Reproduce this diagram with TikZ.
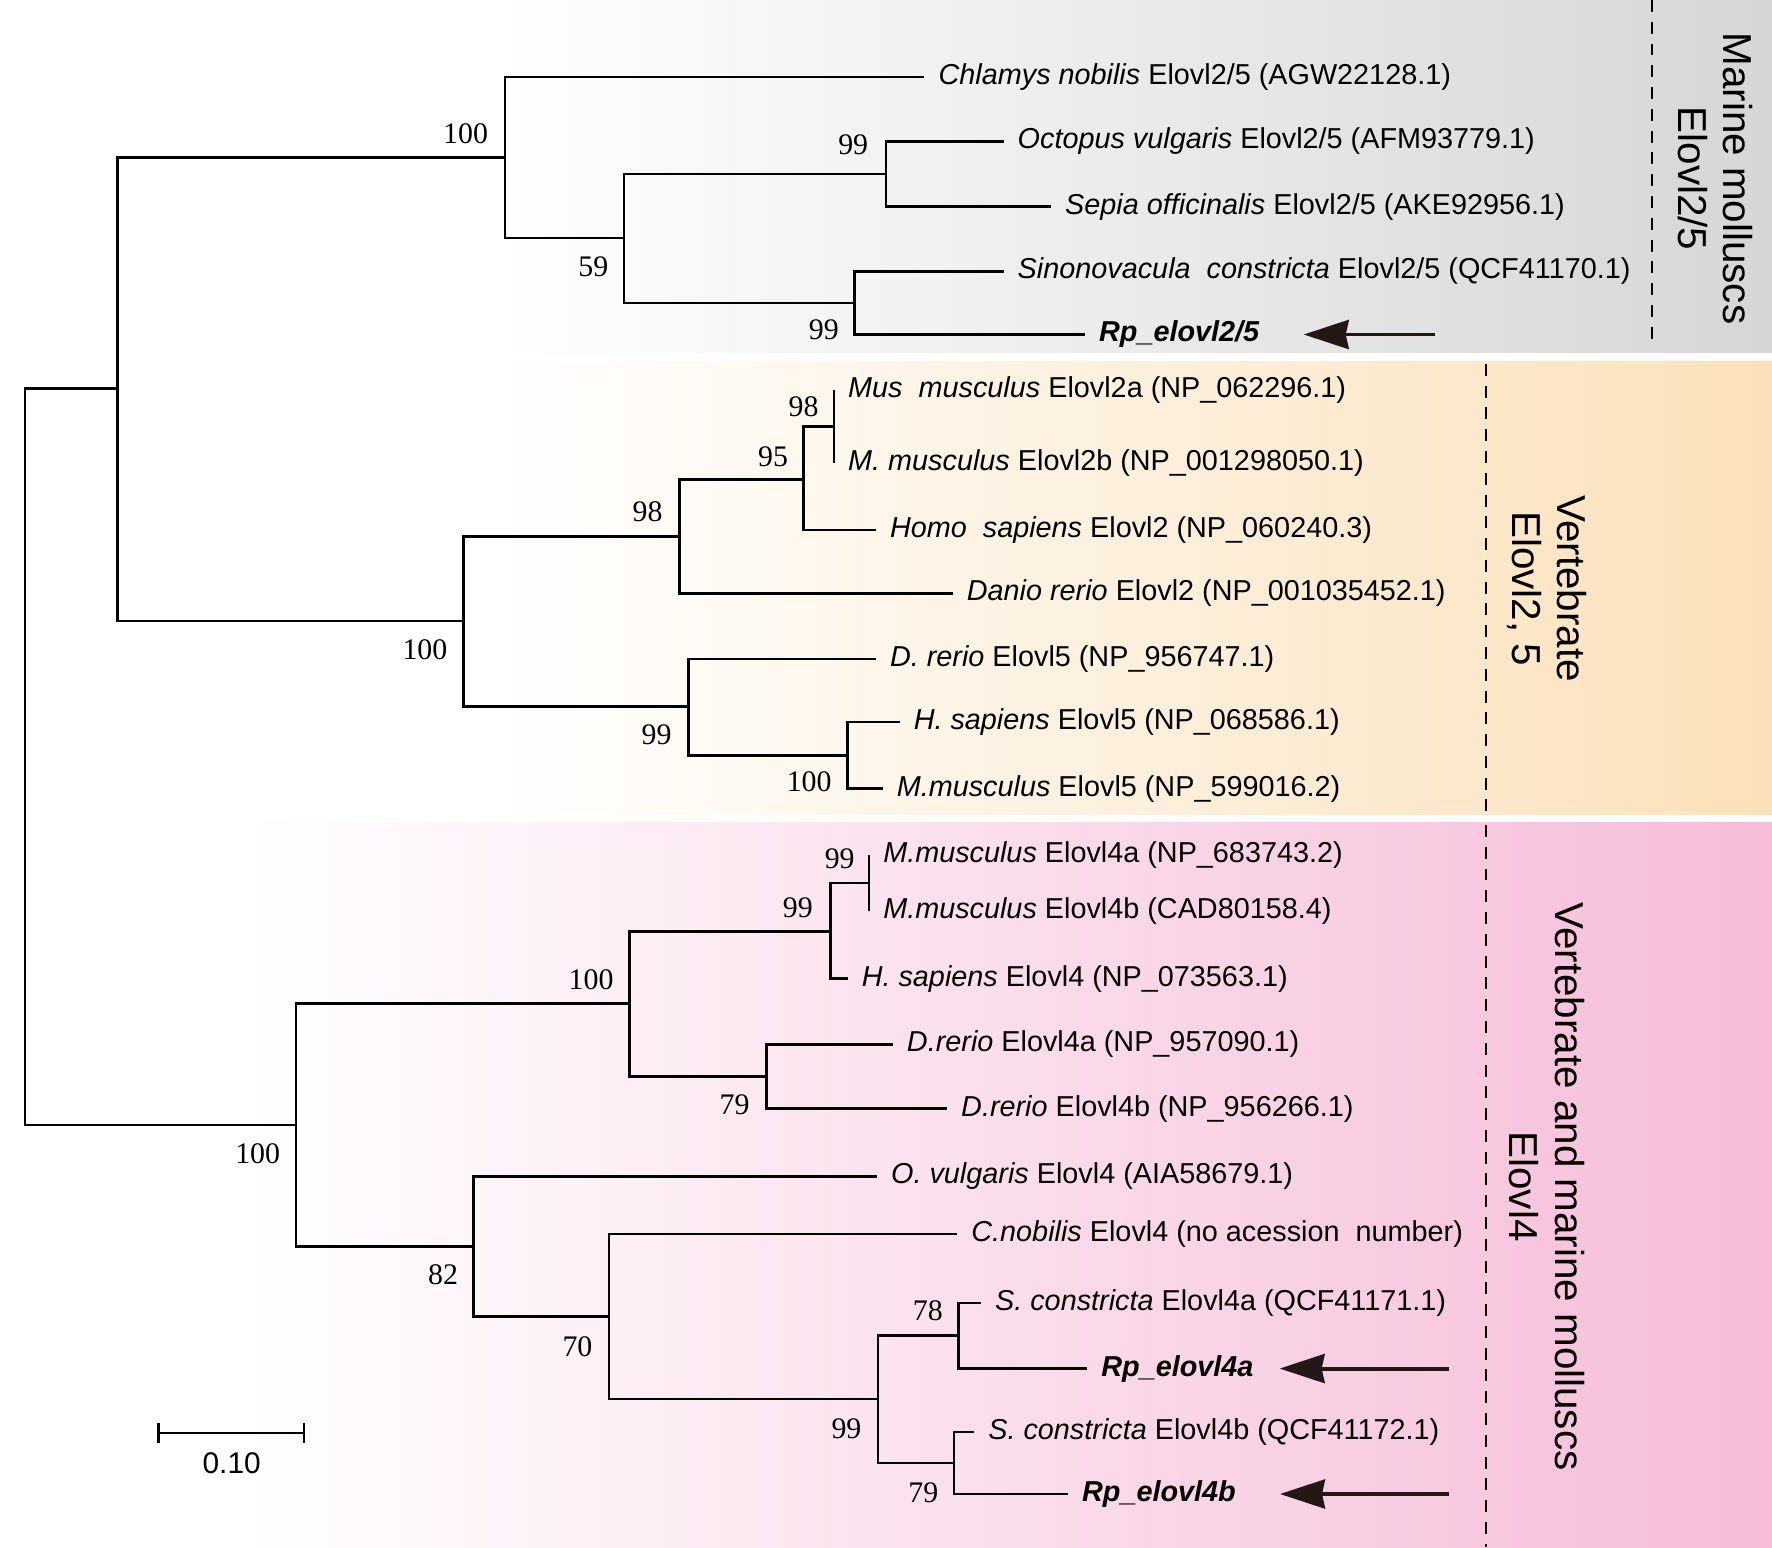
\documentclass[tikz,border=0pt]{standalone}
\usepackage{fontspec}
\setmainfont{Liberation Sans}
\newfontfamily\bootfont{Liberation Serif}
\usetikzlibrary{arrows.meta}
\definecolor{cladegray}{RGB}{214,214,214}
\definecolor{cladeorange}{RGB}{251,225,186}
\definecolor{cladepink}{RGB}{246,188,216}
\definecolor{arrowdark}{RGB}{35,24,21}
\pgfdeclarehorizontalshading{grayband}{100bp}{color(0bp)=(white); color(39bp)=(white); color(75bp)=(cladegray); color(100bp)=(cladegray)}
\pgfdeclarehorizontalshading{orangeband}{100bp}{color(0bp)=(white); color(39bp)=(white); color(75bp)=(cladeorange); color(100bp)=(cladeorange)}
\pgfdeclarehorizontalshading{pinkband}{100bp}{color(0bp)=(white); color(32bp)=(white); color(75bp)=(cladepink); color(100bp)=(cladepink)}

\begin{document}
\begin{tikzpicture}[x=0.011301cm, y=-0.011301cm]
  \tikzstyle{myband}=[draw=none];
  \tikzstyle{mybranch}=[line width=0.75pt, line join=miter];
  \tikzstyle{myleaf}=[anchor=west, inner xsep=0.135cm, inner ysep=1pt, font=\fontsize{8.2}{9}\selectfont];
  \tikzstyle{myboot}=[inner sep=0pt, font=\bootfont\fontsize{8.5}{9}\selectfont];
  \tikzstyle{myclade}=[rotate=-90, align=center, font=\fontsize{11.5}{13}\selectfont];
  \tikzstyle{myarrow}=[line width=1.1pt, arrowdark, -{Stealth[length=4.5mm, width=2.9mm, inset=0.3mm]}];
  \tikzstyle{mydash}=[line width=0.5pt, dash pattern=on 3.4pt off 2.8pt];
  \useasboundingbox (0,0) rectangle (1568,1369);
  %
  % coloured bands
  \fill[myband, shading=grayband] (0,0) rectangle (1568,312);
  \fill[myband, shading=orangeband] (0,320) rectangle (1568,721);
  \fill[myband, shading=pinkband] (0,728) rectangle (1568,1369);
  \draw[mydash] (1462,0) -- (1462,305);
  \draw[mydash] (1315,322) -- (1315,718);
  \draw[mydash] (1315,730) -- (1315,1369);
  %
  % inner nodes
  \coordinate (root) at (22,670);
  \coordinate (na) at (104,344);
  \coordinate (nm100) at (447,139.5);
  \coordinate (nm59) at (552,210.5);
  \coordinate (noct) at (784,154);
  \coordinate (nsin) at (756,268);
  \coordinate (nv100) at (410,549.5);
  \coordinate (nv98) at (601,474.5);
  \coordinate (nv95) at (711,424.5);
  \coordinate (nmus) at (738,377.5);
  \coordinate (nv99) at (609,625);
  \coordinate (nv100b) at (750,668.5);
  \coordinate (ne4) at (262,995.5);
  \coordinate (nb100) at (557,888);
  \coordinate (nb99) at (735,824);
  \coordinate (nmm4) at (769,781.5);
  \coordinate (nb79) at (678,952.5);
  \coordinate (nb82) at (419,1103);
  \coordinate (nb70) at (539,1165);
  \coordinate (nb99b) at (777,1238);
  \coordinate (nb78) at (848,1182);
  \coordinate (nb79b) at (844,1294.5);
  %
  % marine molluscs Elovl2/5
  \node[myleaf] (chl25) at (818,68) {\textit{Chlamys nobilis} Elovl2/5 (AGW22128.1)};
  \node[myleaf] (oct25) at (888,125) {\textit{Octopus vulgaris} Elovl2/5 (AFM93779.1)};
  \node[myleaf] (sep25) at (930,183) {\textit{Sepia officinalis} Elovl2/5 (AKE92956.1)};
  \node[myleaf] (sin25) at (888,240) {\textit{Sinonovacula\ \ constricta} Elovl2/5 (QCF41170.1)};
  \node[myleaf] (rp25) at (960,296) {\textbf{\textit{Rp\_elovl2/5}}};
  %
  % vertebrate Elovl2, 5
  \node[myleaf] (mus2a) at (738,345) {\textit{Mus\ \ musculus} Elovl2a (NP\_062296.1)};
  \node[myleaf] (mus2b) at (738,410) {\textit{M. musculus} Elovl2b (NP\_001298050.1)};
  \node[myleaf] (hom2) at (775,469) {\textit{Homo\ \ sapiens} Elovl2 (NP\_060240.3)};
  \node[myleaf] (dan2) at (843,525) {\textit{Danio rerio} Elovl2 (NP\_001035452.1)};
  \node[myleaf] (dre5) at (775,583) {\textit{D. rerio} Elovl5 (NP\_956747.1)};
  \node[myleaf] (hsa5) at (796,639) {\textit{H. sapiens} Elovl5 (NP\_068586.1)};
  \node[myleaf] (mmu5) at (781,698) {\textit{M.musculus} Elovl5 (NP\_599016.2)};
  %
  % vertebrate and marine molluscs Elovl4
  \node[myleaf] (mmu4a) at (769,757) {\textit{M.musculus} Elovl4a (NP\_683743.2)};
  \node[myleaf] (mmu4b) at (769,806) {\textit{M.musculus} Elovl4b (CAD80158.4)};
  \node[myleaf] (hsa4) at (750,866) {\textit{H. sapiens} Elovl4 (NP\_073563.1)};
  \node[myleaf] (dre4a) at (790,924) {\textit{D.rerio} Elovl4a (NP\_957090.1)};
  \node[myleaf] (dre4b) at (838,981) {\textit{D.rerio} Elovl4b (NP\_956266.1)};
  \node[myleaf] (ovu4) at (776,1041) {\textit{O. vulgaris} Elovl4 (AIA58679.1)};
  \node[myleaf] (cno4) at (847,1092) {\textit{C.nobilis} Elovl4 (no acession\ \ number)};
  \node[myleaf] (sco4a) at (868,1153) {\textit{S. constricta} Elovl4a (QCF41171.1)};
  \node[myleaf] (rp4a) at (962,1211) {\textbf{\textit{Rp\_elovl4a}}};
  \node[myleaf] (sco4b) at (862,1267) {\textit{S. constricta} Elovl4b (QCF41172.1)};
  \node[myleaf] (rp4b) at (945,1322) {\textbf{\textit{Rp\_elovl4b}}};
  %
  % branches
  \draw[mybranch] (root) |- (na);
  \draw[mybranch] (root) |- (ne4);
  \draw[mybranch] (na) |- (nm100);
  \draw[mybranch] (na) |- (nv100);
  \draw[mybranch] (nm100) |- (chl25);
  \draw[mybranch] (nm100) |- (nm59);
  \draw[mybranch] (nm59) |- (noct);
  \draw[mybranch] (nm59) |- (nsin);
  \draw[mybranch] (noct) |- (oct25);
  \draw[mybranch] (noct) |- (sep25);
  \draw[mybranch] (nsin) |- (sin25);
  \draw[mybranch] (nsin) |- (rp25);
  \draw[mybranch] (nv100) |- (nv98);
  \draw[mybranch] (nv100) |- (nv99);
  \draw[mybranch] (nv98) |- (nv95);
  \draw[mybranch] (nv98) |- (dan2);
  \draw[mybranch] (nv95) |- (nmus);
  \draw[mybranch] (nv95) |- (hom2);
  \draw[mybranch] (nmus) |- (mus2a);
  \draw[mybranch] (nmus) |- (mus2b);
  \draw[mybranch] (nv99) |- (dre5);
  \draw[mybranch] (nv99) |- (nv100b);
  \draw[mybranch] (nv100b) |- (hsa5);
  \draw[mybranch] (nv100b) |- (mmu5);
  \draw[mybranch] (ne4) |- (nb100);
  \draw[mybranch] (ne4) |- (nb82);
  \draw[mybranch] (nb100) |- (nb99);
  \draw[mybranch] (nb100) |- (nb79);
  \draw[mybranch] (nb99) |- (nmm4);
  \draw[mybranch] (nb99) |- (hsa4);
  \draw[mybranch] (nmm4) |- (mmu4a);
  \draw[mybranch] (nmm4) |- (mmu4b);
  \draw[mybranch] (nb79) |- (dre4a);
  \draw[mybranch] (nb79) |- (dre4b);
  \draw[mybranch] (nb82) |- (ovu4);
  \draw[mybranch] (nb82) |- (nb70);
  \draw[mybranch] (nb70) |- (cno4);
  \draw[mybranch] (nb70) |- (nb99b);
  \draw[mybranch] (nb99b) |- (nb78);
  \draw[mybranch] (nb99b) |- (nb79b);
  \draw[mybranch] (nb78) |- (sco4a);
  \draw[mybranch] (nb78) |- (rp4a);
  \draw[mybranch] (nb79b) |- (sco4b);
  \draw[mybranch] (nb79b) |- (rp4b);
  %
  % bootstrap values
  \node[myboot] (bm100) at (412,118) {100};
  \node[myboot] (bm59) at (525,236) {59};
  \node[myboot] (boct) at (755,128) {99};
  \node[myboot] (bsin) at (729,292) {99};
  \node[myboot] (bmus) at (711,360) {98};
  \node[myboot] (bv95) at (684,404) {95};
  \node[myboot] (bv98) at (573,453) {98};
  \node[myboot] (bv100) at (376,575) {100};
  \node[myboot] (bv99) at (581,650) {99};
  \node[myboot] (bv100b) at (716,692) {100};
  \node[myboot] (bmm4) at (743,760) {99};
  \node[myboot] (bb99) at (706,803) {99};
  \node[myboot] (bb100) at (523,867) {100};
  \node[myboot] (bb79) at (650,978) {79};
  \node[myboot] (be4) at (228,1021) {100};
  \node[myboot] (bb82) at (392,1128) {82};
  \node[myboot] (bb70) at (511,1192) {70};
  \node[myboot] (bb78) at (821,1160) {78};
  \node[myboot] (bb99b) at (749,1264) {99};
  \node[myboot] (bb79b) at (817,1321) {79};
  %
  % arrows to the new genes
  \coordinate (tail25) at (1270,296);
  \coordinate (tail4a) at (1282,1211);
  \coordinate (tail4b) at (1282,1322);
  \draw[myarrow, shorten >=0.3cm] (tail25) -- (rp25);
  \draw[myarrow, shorten >=0.12cm] (tail4a) -- (rp4a);
  \draw[myarrow, shorten >=0.3cm] (tail4b) -- (rp4b);
  %
  % clade labels
  \node[myclade] (cmar) at (1518,158) {Marine molluscs\\Elovl2/5};
  \node[myclade] (cver) at (1369,521) {Vertebrate\\Elovl2, 5};
  \node[myclade] (cboth) at (1369,1050) {Vertebrate and marine molluscs\\Elovl4};
  %
  % scale bar
  \coordinate (sbl) at (140,1268);
  \coordinate (sbr) at (269,1268);
  \draw[mybranch] (sbl) -- (sbr);
  \draw[mybranch] ([yshift=0.1cm]sbl) -- ([yshift=-0.1cm]sbl);
  \draw[mybranch] ([yshift=0.1cm]sbr) -- ([yshift=-0.1cm]sbr);
  \node[font=\fontsize{8.5}{9}\selectfont] (sbtxt) at (205,1295) {0.10};
\end{tikzpicture}
\end{document}
